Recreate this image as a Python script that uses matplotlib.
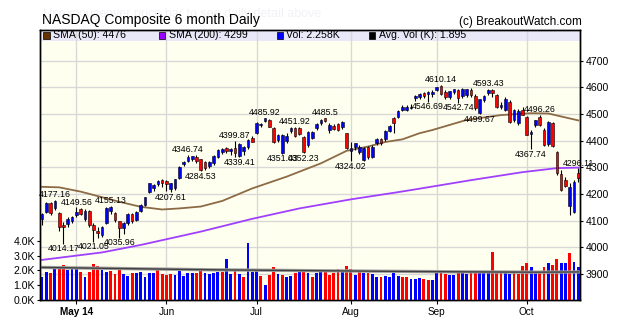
import matplotlib
matplotlib.use("Agg")
import matplotlib.pyplot as plt
from matplotlib.patches import Rectangle

plt.rcParams["font.family"] = ["Liberation Sans", "DejaVu Sans"]

# NASDAQ Composite, daily sessions from late April to mid October 2014
opens = [4105, 4134, 4165, 4146, 4127, 4085, 4088, 4098, 4121, 4142,
         4105, 4137, 4082, 4062, 4046, 4092, 4135, 4128, 4097, 4072,
         4090, 4125, 4104, 4137, 4159, 4209, 4222, 4237, 4252, 4250,
         4217, 4222, 4259, 4312, 4325, 4330, 4340, 4330, 4321, 4305,
         4318, 4340, 4358, 4372, 4360, 4372, 4343, 4360, 4375, 4409,
         4430, 4458, 4475, 4477, 4446, 4402, 4352, 4397, 4435, 4446,
         4446, 4413, 4384, 4409, 4446, 4465, 4484, 4440, 4456, 4462,
         4452, 4427, 4360, 4377, 4359, 4327, 4377, 4340, 4390, 4405,
         4405, 4438, 4484, 4490, 4515, 4516, 4522, 4559, 4565, 4577,
         4574, 4574, 4590, 4606, 4583, 4565, 4581, 4590, 4568, 4571,
         4590, 4569, 4502, 4552, 4578, 4590, 4571, 4528, 4515, 4546,
         4477, 4465, 4515, 4487, 4425, 4459, 4488, 4440, 4386, 4465,
         4357, 4276, 4252, 4155, 4134, 4277]
highs = [4130, 4170, 4170, 4177.16, 4132, 4095, 4112, 4118, 4149.56, 4146,
         4142, 4140, 4090, 4075, 4080, 4150, 4155.13, 4133, 4100, 4095,
         4128, 4130, 4135, 4162, 4190, 4242, 4236, 4253, 4256, 4254,
         4242, 4258, 4305, 4325, 4346.74, 4344, 4345, 4333, 4325, 4325,
         4345, 4368, 4372, 4375, 4372, 4399.87, 4392, 4380, 4405, 4418,
         4470, 4466, 4485.92, 4482, 4450, 4425, 4425, 4430, 4450, 4451.92,
         4450, 4418, 4438, 4437, 4465, 4480, 4485.5, 4465, 4462, 4468,
         4475, 4430, 4395, 4392, 4385, 4375, 4380, 4382, 4410, 4410,
         4440, 4460, 4488, 4515, 4533, 4532, 4538, 4572, 4578, 4582,
         4585, 4590, 4602, 4610.14, 4590, 4588, 4595, 4595, 4598, 4595,
         4596, 4575, 4558, 4570, 4593.43, 4592, 4575, 4545, 4562, 4552,
         4518, 4520, 4525, 4492, 4440, 4478, 4496.26, 4448, 4475, 4470,
         4362, 4290, 4265, 4240, 4252, 4296.11]
lows = [4085, 4128, 4120, 4140, 4062, 4014.17, 4075, 4090, 4112, 4120,
        4100, 4078, 4021.05, 4035, 4040, 4088, 4125, 4095, 4035.96, 4050,
        4085, 4090, 4098, 4132, 4155, 4205, 4212, 4230, 4228, 4212,
        4207.61, 4215, 4255, 4305, 4320, 4322, 4318, 4284.53, 4290, 4298,
        4310, 4335, 4350, 4355, 4345, 4340, 4339.41, 4345, 4370, 4395,
        4425, 4450, 4470, 4450, 4390, 4395, 4351.03, 4390, 4428, 4415,
        4422, 4352.23, 4375, 4405, 4440, 4460, 4470, 4428, 4440, 4435,
        4445, 4370, 4324.02, 4365, 4350, 4325, 4330, 4335, 4385, 4385,
        4400, 4432, 4427, 4485, 4510, 4512, 4518, 4550, 4555, 4560,
        4546.69, 4565, 4585, 4570, 4555, 4558, 4575, 4542.74, 4560, 4565,
        4565, 4515, 4499.67, 4545, 4572, 4565, 4522, 4520, 4510, 4465,
        4470, 4458, 4495, 4420, 4367.74, 4450, 4455, 4380, 4380, 4376,
        4270, 4212, 4225, 4120, 4130, 4245]
closes = [4125, 4167, 4127, 4172, 4077, 4075, 4108, 4113, 4132, 4126,
          4138, 4082, 4065, 4055, 4077, 4148, 4150, 4102, 4072, 4090,
          4125, 4097, 4131, 4159, 4187, 4240, 4234, 4250, 4240, 4236,
          4240, 4255, 4300, 4321, 4340, 4342, 4322, 4290, 4296, 4320,
          4342, 4365, 4370, 4362, 4368, 4352, 4388, 4375, 4402, 4396,
          4465, 4462, 4485, 4452, 4394, 4421, 4421, 4418, 4447, 4419,
          4425, 4359, 4434, 4434, 4462, 4478, 4472, 4458, 4444, 4440,
          4470, 4371, 4372, 4390, 4377, 4371, 4340, 4377, 4405, 4390,
          4438, 4455, 4465, 4513, 4528, 4527, 4526, 4568, 4575, 4568,
          4583, 4584, 4600, 4575, 4562, 4586, 4592, 4560, 4592, 4592,
          4571, 4521, 4555, 4566, 4590, 4577, 4527, 4534, 4555, 4469,
          4515, 4512, 4497, 4422, 4432, 4476, 4460, 4385, 4469, 4380,
          4277, 4215, 4230, 4228, 4245, 4259]

# volume in thousands, and whether the session closed up (b) or down (r)
volumes = [1.58, 1.89, 1.85, 2.16, 2.12, 2.36, 2.00, 2.16, 2.09, 1.89,
           1.58, 1.89, 2.41, 2.33, 2.03, 1.91, 1.96, 1.76, 2.12, 1.76,
           1.62, 1.82, 1.80, 1.91, 1.58, 1.82, 1.82, 2.00, 1.76, 1.67,
           1.76, 1.69, 2.00, 1.62, 1.85, 1.85, 1.85, 1.94, 1.80, 1.73,
           1.85, 1.89, 1.89, 2.77, 1.76, 2.03, 1.78, 1.55, 3.83, 1.89,
           1.96, 1.62, 1.01, 1.69, 2.23, 1.76, 1.69, 1.58, 1.64, 1.85,
           2.09, 2.09, 1.85, 1.58, 1.80, 1.96, 1.96, 1.71, 1.80, 2.09,
           1.87, 2.32, 2.09, 1.69, 1.96, 1.82, 1.82, 1.76, 1.58, 1.58,
           1.62, 1.58, 1.82, 1.64, 1.58, 1.55, 1.42, 1.42, 1.46, 1.42,
           1.37, 1.35, 1.89, 1.87, 1.76, 1.71, 1.71, 1.94, 1.80, 1.78,
           1.82, 1.91, 1.87, 1.80, 1.80, 3.22, 1.87, 1.87, 1.80, 1.78,
           1.85, 1.78, 2.31, 2.47, 2.25, 1.80, 1.85, 2.20, 2.50, 2.35,
           2.80, 2.50, 2.50, 3.15, 2.60, 2.258]
vol_dir = ("bbrbrrbbbr" "brrrbbrrrb" "brbbbbbrrr" "rbbbbbrrbb" "bbrbbrbrbb"
           "brbrrbrbbr" "brbrbbrrrr" "brrbrbrbbr" "bbbbrrbbbr" "rbbrrbbrbb"
           "rrbbbrrrbb" "rrrrbbrrbr" "rbbrbb")

# moving averages (session number, value)
sma50_days = [0, 4, 9, 14, 18, 23, 28, 32, 37, 42, 49, 57, 65, 71, 76, 80,
              84, 88, 91, 99, 107, 114, 118, 125]
sma50_vals = [4227, 4225, 4209, 4188, 4171, 4152, 4142, 4146, 4153, 4174,
              4221, 4265, 4315, 4362, 4378, 4395, 4405, 4428, 4440, 4478,
              4496, 4503, 4502, 4476]
sma200_days = [0, 14, 23, 37, 49, 60, 72, 83, 88, 100, 104, 112, 120, 125]
sma200_vals = [3953, 3981, 4009, 4059, 4107, 4146, 4180, 4207, 4220, 4252,
               4262, 4282, 4297, 4299]
avgvol_days = [0, 20, 40, 60, 80, 100, 115, 125]
avgvol_vals = [2.20, 2.12, 2.04, 1.99, 1.94, 1.90, 1.88, 1.895]

# first session of each month and its axis label
month_days = [8, 29, 50, 72, 92, 113]
month_labels = ["May 14", "Jun", "Jul", "Aug", "Sep", "Oct"]

# sessions whose high / low is printed on the chart
high_marks = [3, 8, 16, 34, 45, 52, 59, 66, 93, 104, 116, 125]
low_marks = [5, 12, 18, 30, 37, 46, 56, 61, 72, 90, 97, 102, 114]

legend_items = [("SMA (50): 4476", "#663300"),
                ("SMA (200): 4299", "#9900ff"),
                ("Vol: 2.258K", "#0000ff"),
                ("Avg. Vol (K): 1.895", "#000000")]
price_ticks = [3900, 4000, 4100, 4200, 4300, 4400, 4500, 4600, 4700]
vol_ticks = [0, 1, 2, 3, 4]

UP, DOWN = "#0000ff", "#ff0000"


def draw_candles(ax):
    # wicks first, then the bodies on top
    days = range(len(closes))
    ax.vlines(days, lows, highs, color="black", lw=0.8, zorder=3)
    bottoms = [min(o, c) for o, c in zip(opens, closes)]
    heights = [max(abs(c - o), 1.5) for o, c in zip(opens, closes)]
    colours = [UP if c >= o else DOWN for o, c in zip(opens, closes)]
    ax.bar(days, heights, bottom=bottoms, width=0.62, color=colours,
           edgecolor="black", linewidth=0.4, zorder=4)


def draw_price_labels(ax):
    for d in high_marks:
        ax.annotate(f"{highs[d]:g}", (d, highs[d]), xytext=(0, 0.5),
                    textcoords="offset points", ha="center", va="bottom",
                    fontsize=6.3, zorder=6)
    for d in low_marks:
        ax.annotate(f"{lows[d]:g}", (d, lows[d]), xytext=(0, -0.5),
                    textcoords="offset points", ha="center", va="top",
                    fontsize=6.3, zorder=6)


def draw_legend(ax):
    # lavender strip along the top of the plot
    band = 11 / 270
    ax.add_patch(Rectangle((0, 1 - band), 1, band, transform=ax.transAxes,
                           facecolor="#e8e8f8", edgecolor="none", zorder=0.2))
    starts = [0.006, 0.220, 0.438, 0.609]
    for (label, colour), x in zip(legend_items, starts):
        ax.add_patch(Rectangle((x, 1 - band + 0.009), 0.012, 0.024,
                               transform=ax.transAxes, facecolor=colour,
                               edgecolor="black", lw=0.5, zorder=7,
                               clip_on=False))
        ax.text(x + 0.018, 1 - band / 2, label, transform=ax.transAxes,
                fontsize=7.6, va="center", zorder=7)


def main():
    fig = plt.figure(figsize=(6.2, 3.26), dpi=100)
    ax = fig.add_axes([40 / 620, 26 / 326, 540 / 620, 270 / 326])
    ax.set_facecolor("#ffffef")
    # volume panel shares the plot area, scaled on the left axis
    vol = ax.twinx()

    ax.set_xlim(-0.47, 125.4)
    ax.set_ylim(3802.6, 4815)
    ax.set_axisbelow(True)
    ax.grid(True, color="#d8d8d8", lw=1)
    ax.yaxis.tick_right()
    ax.set_yticks(price_ticks, [str(t) for t in price_ticks], fontsize=7.6)
    ax.set_xticks(month_days, month_labels, fontsize=7.2)
    ax.get_xticklabels()[0].set_fontweight("bold")
    ax.tick_params(axis="y", length=2, pad=2)
    ax.tick_params(axis="x", length=3, pad=2)

    ax.plot(sma50_days, sma50_vals, color="#8c6a46", lw=1.3, zorder=2)
    ax.plot(sma200_days, sma200_vals, color="#a040ff", lw=1.3, zorder=2)
    draw_candles(ax)
    draw_price_labels(ax)
    draw_legend(ax)

    vol.set_ylim(0, 270 / 14.8)
    vol.yaxis.tick_left()
    vol.set_yticks(vol_ticks, [f"{v:.1f}K" for v in vol_ticks], fontsize=7.6)
    vol.tick_params(axis="y", length=2, pad=1.5)
    vol.bar(range(len(volumes)), volumes, width=0.66,
            color=[UP if d == "b" else DOWN for d in vol_dir], lw=0)
    vol.plot(avgvol_days, avgvol_vals, color="#a0a0a0", lw=2.4)
    vol.plot(avgvol_days, avgvol_vals, color="#404040", lw=1.0)

    for spine in list(ax.spines.values()) + list(vol.spines.values()):
        spine.set_color("black")
        spine.set_linewidth(1)

    fig.text(43 / 620, 1 - 14 / 326,
             "Use mouseover price bar to see daily detail above",
             fontsize=9, color="#f2f2f6", va="center")
    fig.text(42 / 620, 1 - 20 / 326, "NASDAQ Composite 6 month Daily",
             fontsize=10, va="center")
    fig.text(582 / 620, 1 - 22 / 326, "(c) BreakoutWatch.com",
             fontsize=8.5, va="center", ha="right")

    fig.savefig("out.png", dpi=100)


if __name__ == "__main__":
    main()
